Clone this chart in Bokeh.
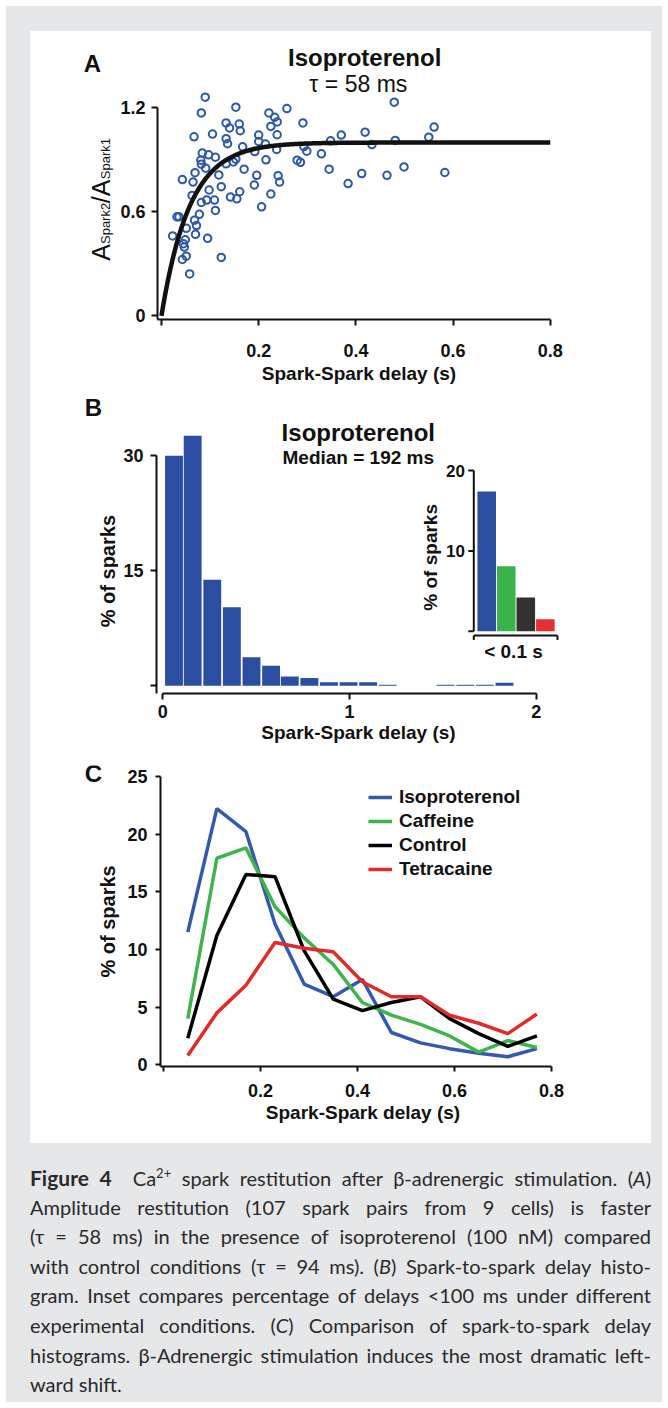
import numpy as np
from bokeh.plotting import figure
from bokeh.models import Range1d, Label, Div, Legend, LegendItem, FixedTicker, Spacer
from bokeh.layouts import column, row
from bokeh.embed import file_html
from bokeh.resources import INLINE

# ---------------- data ----------------
# Panel A: amplitude restitution (spark-spark delay in s, A_spark2/A_spark1)
a_delay = [0.090, 0.082, 0.153, 0.258, 0.221, 0.233, 0.238, 0.225, 0.291, 0.133,
           0.160, 0.140, 0.162, 0.105, 0.067, 0.133, 0.200, 0.238, 0.370, 0.136,
           0.167, 0.200, 0.214, 0.192, 0.237, 0.293, 0.299, 0.348, 0.084, 0.097,
           0.111, 0.081, 0.082, 0.091, 0.133, 0.148, 0.153, 0.118, 0.069, 0.043,
           0.065, 0.170, 0.215, 0.279, 0.286, 0.329, 0.345, 0.384, 0.196, 0.191,
           0.240, 0.243, 0.225, 0.206, 0.123, 0.098, 0.161, 0.142, 0.155, 0.109,
           0.093, 0.082, 0.063, 0.111, 0.078, 0.036, 0.032, 0.068, 0.072, 0.051,
           0.070, 0.023, 0.095, 0.049, 0.045, 0.047, 0.051, 0.043, 0.123, 0.058,
           0.479, 0.561, 0.550, 0.419, 0.481, 0.433, 0.412, 0.499, 0.464, 0.583]
a_ratio = [1.262, 1.171, 1.204, 1.196, 1.171, 1.146, 1.119, 1.093, 1.113, 1.113,
           1.107, 1.084, 1.068, 1.049, 1.033, 1.022, 1.043, 1.045, 1.043, 0.993,
           0.975, 1.006, 0.991, 0.948, 0.960, 0.977, 0.950, 1.010, 0.939, 0.929,
           0.915, 0.898, 0.875, 0.852, 0.877, 0.888, 0.904, 0.813, 0.826, 0.786,
           0.772, 0.846, 0.900, 0.898, 0.886, 0.935, 0.846, 0.763, 0.811, 0.755,
           0.809, 0.772, 0.703, 0.629, 0.745, 0.726, 0.716, 0.685, 0.675, 0.668,
           0.668, 0.654, 0.695, 0.608, 0.586, 0.571, 0.571, 0.552, 0.521, 0.505,
           0.470, 0.461, 0.447, 0.439, 0.416, 0.397, 0.344, 0.325, 0.337, 0.242,
           1.233, 1.089, 1.031, 1.060, 1.012, 0.988, 0.821, 0.859, 0.811, 0.827]
a_tau_s = 0.058          # fitted time constant (tau = 58 ms)
a_fit_end_s = 0.8
a_xticks = [0, 0.2, 0.4, 0.6, 0.8]
a_xtick_labels = ["", "0.2", "0.4", "0.6", "0.8"]
a_yticks = [0, 0.6, 1.2]
a_ytick_labels = ["0", "0.6", "1.2"]

# Panel B: spark-spark delay histogram (isoproterenol)
b_bin_center = [0.060, 0.160, 0.265, 0.370, 0.475, 0.580, 0.680, 0.785, 0.890,
                0.995, 1.100, 1.205, 1.515, 1.620, 1.725, 1.830]
b_pct = [29.9, 32.5, 13.8, 10.2, 3.7, 2.6, 1.2, 1.0, 0.45, 0.45, 0.45, 0.15,
         0.15, 0.15, 0.15, 0.4]
b_bin_width = 0.104
b_xticks = [0, 1, 2]
b_xtick_labels = ["0", "1", "2"]
b_yticks = [0, 15, 30]
b_ytick_labels = ["", "15", "30"]

# Panel B inset: % of delays < 0.1 s
inset_groups = ["Isoproterenol", "Caffeine", "Control", "Tetracaine"]
inset_pct = [17.4, 8.1, 4.2, 1.5]
inset_yticks = [0, 10, 20]
inset_ytick_labels = ["", "10", "20"]

# Panel C: delay histograms compared
c_delay = [0.05, 0.11, 0.17, 0.23, 0.29, 0.35, 0.41, 0.47, 0.53, 0.59, 0.65, 0.71, 0.77]
c_iso = [11.5, 22.2, 20.2, 12.2, 7.0, 5.9, 7.4, 2.8, 1.9, 1.4, 1.0, 0.7, 1.4]
c_caf = [4.0, 17.9, 18.8, 13.7, 11.0, 8.7, 5.4, 4.3, 3.5, 2.5, 1.1, 2.1, 1.5]
c_ctl = [2.3, 11.2, 16.5, 16.3, 9.9, 5.7, 4.7, 5.4, 5.9, 4.0, 2.7, 1.6, 2.5]
c_tet = [0.8, 4.5, 6.9, 10.6, 10.1, 9.8, 7.2, 5.9, 5.9, 4.3, 3.6, 2.7, 4.4]
c_series = ["Isoproterenol", "Caffeine", "Control", "Tetracaine"]
c_xticks = [0, 0.2, 0.4, 0.6, 0.8]
c_xtick_labels = ["", "0.2", "0.4", "0.6", "0.8"]
c_yticks = [0, 5, 10, 15, 20, 25]
c_ytick_labels = ["0", "5", "10", "15", "20", "25"]

caption_lines = [
    '<b style="font-weight:700;font-size:21px;">Figure 4</b>&nbsp; Ca<sup style="font-size:13px;line-height:0;">2+</sup> spark restitution after &beta;-adrenergic stimulation. (<i>A</i>)',
    'Amplitude restitution (107 spark pairs from 9 cells) is faster',
    '(&tau; = 58 ms) in the presence of isoproterenol (100 nM) compared',
    'with control conditions (&tau; = 94 ms). (<i>B</i>) Spark-to-spark delay histo-',
    'gram. Inset compares percentage of delays &lt;100 ms under different',
    'experimental conditions. (<i>C</i>) Comparison of spark-to-spark delay',
    'histograms. &beta;-Adrenergic stimulation induces the most dramatic left-',
    'ward shift.',
]

# ---------------- style ----------------
FONT = "Liberation Sans"
INK = "#111111"
BAR_BLUE = "#2b4ea0"
DOT_BLUE = "#2d59a8"
LINE_COLORS = ["#3459b0", "#3db54a", "#000000", "#e32a2a"]
INSET_COLORS = ["#2b4ea0", "#3ab44a", "#333231", "#e53030"]
GRAY = "#e6e7e9"
BAR_FILL_FRACTION = 0.92


def make_fig(w, h, xr, yr, left, right, top, bottom):
    p = figure(width=w, height=h, x_range=Range1d(*xr), y_range=Range1d(*yr),
               output_backend="svg", toolbar_location=None, title=None,
               min_border_left=left, min_border_right=right,
               min_border_top=top, min_border_bottom=bottom)
    p.outline_line_color = None
    p.grid.visible = False
    p.background_fill_color = "white"
    p.border_fill_color = "white"
    return p


def make_strip(w, h):
    s = figure(width=w, height=h, x_range=Range1d(0, w), y_range=Range1d(0, h),
               x_axis_type=None, y_axis_type=None, output_backend="svg",
               toolbar_location=None, title=None, min_border=0)
    s.outline_line_color = None
    s.background_fill_color = "white"
    s.border_fill_color = "white"
    return s


def style_axis(ax, ticks, labels, bounds, standoff, tick_out=6, label=None,
               label_standoff=4):
    ax.ticker = FixedTicker(ticks=ticks)
    ax.major_label_overrides = {t: l for t, l in zip(ticks, labels)}
    ax.bounds = bounds
    ax.minor_tick_line_color = None
    ax.major_tick_in = 0
    ax.major_tick_out = tick_out
    ax.axis_line_width = 2
    ax.axis_line_color = INK
    ax.major_tick_line_width = 2
    ax.major_tick_line_color = INK
    ax.major_label_text_font = FONT
    ax.major_label_text_font_style = "bold"
    ax.major_label_text_font_size = "18px"
    ax.major_label_text_color = INK
    ax.major_label_standoff = standoff
    if label is not None:
        ax.axis_label = label
        ax.axis_label_text_font = FONT
        ax.axis_label_text_font_style = "bold"
        ax.axis_label_text_font_size = "19px"
        ax.axis_label_text_color = INK
        ax.axis_label_standoff = label_standoff


def add_label(p, x, y, text, size, bold=True, align="center", baseline="middle",
              angle=0, x_offset=0, y_offset=0, color=INK, **kw):
    p.add_layout(Label(x=x, y=y, text=text, text_font=FONT,
                       text_font_size=f"{size}px",
                       text_font_style="bold" if bold else "normal",
                       text_align=align, text_baseline=baseline, angle=angle,
                       x_offset=x_offset, y_offset=y_offset, text_color=color, **kw))


# ---------------- panel A ----------------
# main frame: page x 157..560, y 45..319 (row spans page y 31..388)
H_A = 357
sA = make_strip(85, H_A)
pA = make_fig(536, H_A, (-0.0082, 0.821), (-0.0213, 1.56), 42, 91, 14, 69)
pA.scatter(a_delay, a_ratio, marker="circle", size=7.5, fill_color=None,
           line_color=DOT_BLUE, line_width=2)
fit_x = np.linspace(0, a_fit_end_s, 400)
fit_y = 1 - np.exp(-fit_x / a_tau_s)
pA.line(fit_x, fit_y, line_color=INK, line_width=4.5)
style_axis(pA.xaxis[0], a_xticks, a_xtick_labels, (-0.0082, 0.8), 18,
           label="Spark-Spark delay (s)", label_standoff=3)
style_axis(pA.yaxis[0], a_yticks, a_ytick_labels, (-0.0213, 1.2), 6)
add_label(pA, 0.418, 1.49, "Isoproterenol", 24)
add_label(pA, 0.405, 1.335, "\u03c4 = 58 ms", 23, bold=False)
# strip A: panel letter and y-axis title A_Spark2/A_Spark1 (rotated, subscripts)
add_label(sA, 62, 334, "A", 24)
ylx, yly = 70, 76.6
add_label(sA, ylx, yly, "A", 25, bold=False, align="left", baseline="alphabetic",
          angle=np.pi / 2)
add_label(sA, ylx, yly, "Spark2", 13, bold=False, align="left", baseline="alphabetic",
          angle=np.pi / 2, x_offset=5, y_offset=16.7)
add_label(sA, ylx, yly, "/A", 25, bold=False, align="left", baseline="alphabetic",
          angle=np.pi / 2, y_offset=57.5)
add_label(sA, ylx, yly, "Spark1", 13, bold=False, align="left", baseline="alphabetic",
          angle=np.pi / 2, x_offset=5, y_offset=81.5)

# ---------------- panel B ----------------
# main frame: page x 156..560, y 398..693 (row spans page y 388..752)
H_B = 364
sB = make_strip(88, H_B)
pB = make_fig(533, H_B, (-0.0337, 2.130), (-1.0, 37.36), 38, 91, 10, 59)
pB.vbar(x=b_bin_center, top=b_pct, width=b_bin_width * BAR_FILL_FRACTION, bottom=0,
        fill_color=BAR_BLUE, line_color=None)
style_axis(pB.xaxis[0], b_xticks, b_xtick_labels, (0, 2), 5,
           label="Spark-Spark delay (s)", label_standoff=1)
style_axis(pB.yaxis[0], b_yticks, b_ytick_labels, (-1.0, 30), 7)
add_label(pB, 1.047, 32.9, "Isoproterenol", 24)
add_label(pB, 1.047, 29.7, "Median = 192 ms", 19)
add_label(sB, 63, 353, "B", 24)
add_label(sB, 77, 151, "% of sparks", 20, angle=np.pi / 2)

# inset (drawn on its own ranges inside panel B)
pB.extra_x_ranges = {"ix": Range1d(-16.89, 3.775)}
pB.extra_y_ranges = {"iy": Range1d(-7.758, 28.98)}
inset_x = list(range(len(inset_groups)))
pB.vbar(x=inset_x, top=inset_pct, width=0.95, bottom=0, fill_color=INSET_COLORS,
        line_color=None, x_range_name="ix", y_range_name="iy")
ax_u = -0.66
pB.segment(x0=[ax_u], y0=[0], x1=[ax_u], y1=[max(inset_yticks)], line_color=INK,
           line_width=2, x_range_name="ix", y_range_name="iy")
pB.segment(x0=[ax_u] * len(inset_yticks), y0=inset_yticks,
           x1=[ax_u - 0.28] * len(inset_yticks), y1=inset_yticks,
           line_color=INK, line_width=2, x_range_name="ix", y_range_name="iy")
pB.segment(x0=[ax_u, ax_u, 3.62], y0=[-0.55, -0.55, -0.55],
           x1=[3.62, ax_u, 3.62], y1=[-0.55, -1.1, -1.1],
           line_color=INK, line_width=2, x_range_name="ix", y_range_name="iy")
for t, l in zip(inset_yticks, inset_ytick_labels):
    if l:
        add_label(pB, ax_u - 0.45, t, l, 17, align="right",
                  x_range_name="ix", y_range_name="iy")
add_label(pB, -2.87, 9.2, "% of sparks", 19, angle=np.pi / 2,
          x_range_name="ix", y_range_name="iy")
add_label(pB, 1.37, -2.55, "< 0.1 s", 19, x_range_name="ix", y_range_name="iy")

# ---------------- panel C ----------------
# main frame: page x 160..565, y 765..1066 (row spans page y 752..1143)
H_C = 391
sC = make_strip(90, H_C)
pC = make_fig(531, H_C, (-0.0062, 0.829), (-0.147, 25.94), 40, 86, 13, 77)
renderers = []
for ys, col in zip([c_iso, c_caf, c_ctl, c_tet], LINE_COLORS):
    renderers.append(pC.line(c_delay, ys, line_color=col, line_width=3.5))
style_axis(pC.xaxis[0], c_xticks, c_xtick_labels, (-0.0062, 0.8), 12, tick_out=5,
           label="Spark-Spark delay (s)", label_standoff=2)
style_axis(pC.yaxis[0], c_yticks, c_ytick_labels, (-0.147, 25), 8, tick_out=5)
add_label(sC, 63, 380, "C", 24)
add_label(sC, 77, 188.5, "% of sparks", 20, angle=np.pi / 2)
legend = Legend(items=[LegendItem(label=n, renderers=[r]) for n, r in zip(c_series, renderers)],
                location=(208, 186), orientation="vertical")
legend.border_line_color = None
legend.background_fill_alpha = 0
legend.padding = 0
legend.margin = 0
legend.spacing = 2
legend.glyph_width = 24
legend.glyph_height = 20
legend.label_height = 20
legend.label_standoff = 7
legend.label_text_font = FONT
legend.label_text_font_style = "bold"
legend.label_text_font_size = "19px"
legend.label_text_color = INK
pC.add_layout(legend)

# ---------------- caption ----------------
line_divs = []
for i, ln in enumerate(caption_lines):
    last = i == len(caption_lines) - 1
    al = "left" if last else "justify"
    line_divs.append(f'<div style="white-space:nowrap;text-align:{al};text-align-last:{al};'
                     f'width:621px;height:29.6px;">{ln}</div>')
cap = Div(text=('<div style="font-family:Lato;font-size:20px;line-height:29.6px;'
                'color:#2a2a2a;">' + "".join(line_divs) + '</div>'),
          width=621, height=235, margin=0)

inner = column(row(sA, pA, spacing=0), row(sB, pB, spacing=0), row(sC, pC, spacing=0),
               spacing=0, styles={"background-color": "white"})
# gray card: page x 6..662, y 6..1402; white panel page x 30..651, y 31..1143
card = column(Spacer(width=656, height=25),
              row(Spacer(width=24, height=1112), inner, spacing=0),
              Spacer(width=656, height=20),
              row(Spacer(width=24, height=235), cap, spacing=0),
              spacing=0, width=656, height=1396,
              styles={"background-color": GRAY})
page = column(Spacer(width=662, height=6),
              row(Spacer(width=6, height=1396), card, spacing=0),
              spacing=0, width=662, height=1402)

open("out.html", "w").write(file_html(page, INLINE))
